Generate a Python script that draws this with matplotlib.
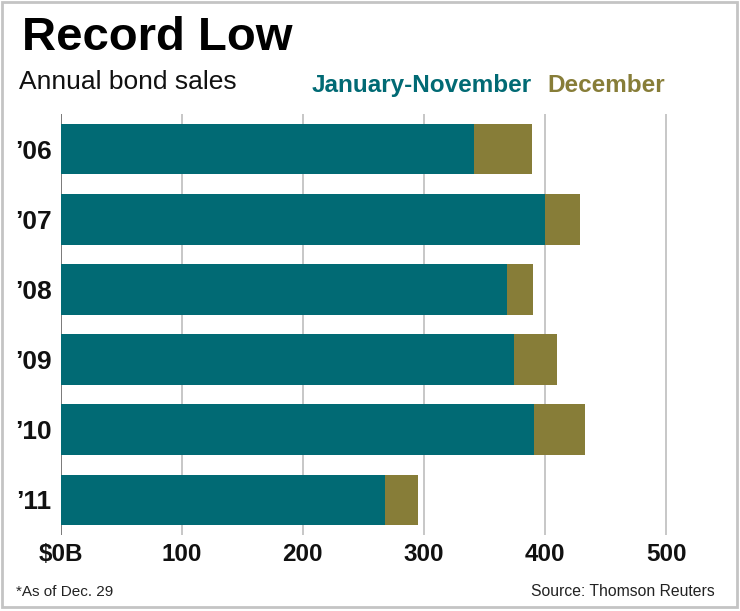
import numpy as np
import matplotlib
matplotlib.use('Agg')
import matplotlib.pyplot as plt
from matplotlib.patches import Rectangle

# Annual bond sales, $ billions
years = ["\u201906", "\u201907", "\u201908", "\u201909", "\u201910", "\u201911"]
jan_nov = [341, 400, 369, 374, 391, 268]
december = [48, 29, 21, 36, 42, 27]
x_ticks = [0, 100, 200, 300, 400, 500]
x_ticklabels = ["$0B", "100", "200", "300", "400", "500"]

teal = '#016a74'
olive = '#877d38'

W, H = 740, 611
fig = plt.figure(figsize=(W / 100, H / 100), dpi=100)
plt.rcParams['font.family'] = ['Liberation Sans', 'DejaVu Sans']


def px(x, y):
    return x / W, 1 - y / H


# outer frame
fig.patches.append(Rectangle((2 / W, 4 / H), 735 / W, 605 / H, transform=fig.transFigure,
                             fill=False, edgecolor='#c4c4c4', linewidth=2))

# axes placed to match the reference pixels
ax = fig.add_axes([60.7 / W, 76 / H, 520 * 1.2107 / W, 421 / H])
pos = np.arange(len(years))
ax.barh(pos, jan_nov, height=0.72, color=teal, zorder=3)
ax.barh(pos, december, left=jan_nov, height=0.72, color=olive, zorder=3)

ax.set_xlim(0, 520)
ax.set_ylim(len(years) - 0.5, -0.5)
ax.set_yticks(pos)
ax.set_yticklabels(years, fontsize=19, fontweight='bold', color='#111111')
ax.set_xticks(x_ticks)
ax.set_xticklabels(x_ticklabels, fontsize=17.5, fontweight='bold', color='#111111')
ax.tick_params(axis='both', length=0)
ax.tick_params(axis='y', pad=6.5)
ax.tick_params(axis='x', pad=6)
for s in ax.spines.values():
    s.set_visible(False)
for t in x_ticks:
    ax.axvline(t, color='#555555' if t == 0 else '#b8b8b8', linewidth=1.1, zorder=1)

# titles and legend text
fig.text(*px(22, 50), "Record Low", fontsize=34, fontweight='bold',
         color='#000000', va='baseline')
fig.text(*px(19, 89), "Annual bond sales", fontsize=19, color='#111111', va='baseline')
fig.text(*px(312, 92), "January-November", fontsize=17.5, fontweight='bold', color=teal, va='baseline')
fig.text(*px(547, 92), "December", fontsize=17.5, fontweight='bold', color=olive, va='baseline')

# footer
fig.text(*px(16, 596), "*As of Dec. 29", fontsize=11, color='#222222', va='baseline')
fig.text(*px(715, 596), "Source: Thomson Reuters", fontsize=11.3, color='#222222',
         va='baseline', ha='right')

fig.savefig('out.png', dpi=100)
